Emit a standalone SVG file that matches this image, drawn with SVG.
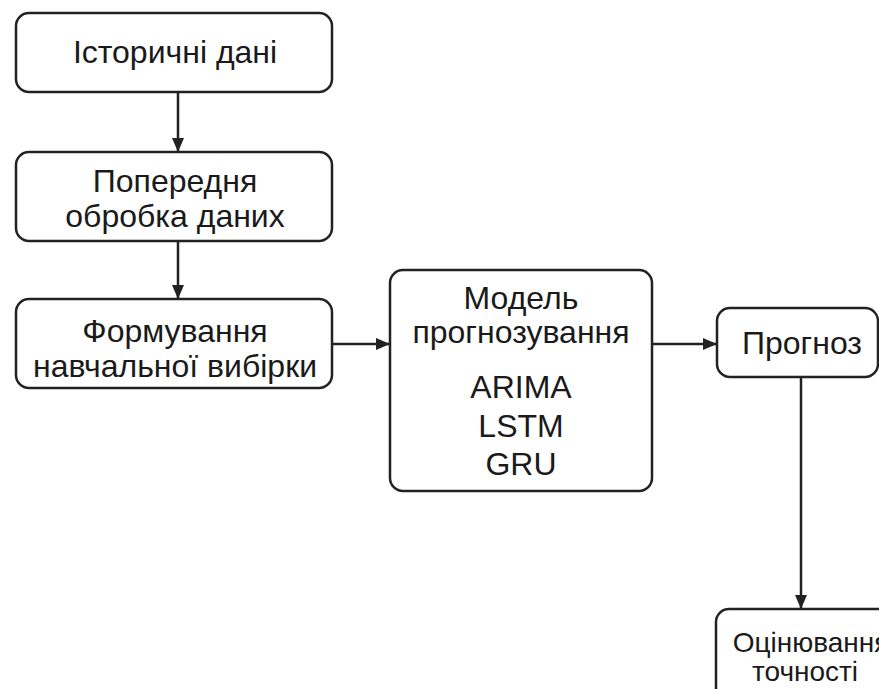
<svg xmlns="http://www.w3.org/2000/svg" width="879" height="689" viewBox="0 0 879 689">
<defs>
<style>
.box{fill:#fff;stroke:#222;stroke-width:2.5}
.t{font-family:"Liberation Sans",Arial,sans-serif;font-size:32px;fill:#1a1a1a;text-anchor:middle}
.s{font-size:28px}
.c{fill:none;stroke:#222;stroke-width:2.5}
</style>
<marker id="ah" viewBox="0 0 14 12" refX="14" refY="6" markerWidth="14" markerHeight="12" markerUnits="userSpaceOnUse" orient="auto">
<path d="M0,0 L14,6 L0,12 Z" fill="#222"/>
</marker>
</defs>
<rect width="879" height="689" fill="#fff"/>
<g id="connectors">
<line class="c" x1="178" y1="92" x2="178" y2="152" marker-end="url(#ah)"/>
<line class="c" x1="178" y1="241" x2="178" y2="299" marker-end="url(#ah)"/>
<line class="c" x1="332" y1="344" x2="390" y2="344" marker-end="url(#ah)"/>
<line class="c" x1="652" y1="344" x2="717" y2="344" marker-end="url(#ah)"/>
<line class="c" x1="801" y1="377" x2="801" y2="609" marker-end="url(#ah)"/>
</g>
<g id="n1">
<rect class="box" x="16" y="13" width="316" height="79" rx="13"/>
<text class="t" x="175" y="63">Історичні дані</text>
</g>
<g id="n2">
<rect class="box" x="16" y="152" width="316" height="89" rx="13"/>
<text class="t" x="175" y="192">Попередня</text>
<text class="t" x="175" y="227">обробка даних</text>
</g>
<g id="n3">
<rect class="box" x="16" y="299" width="316" height="89" rx="13"/>
<text class="t" x="175" y="342">Формування</text>
<text class="t" x="175" y="377">навчальної вибірки</text>
</g>
<g id="n4">
<rect class="box" x="390" y="270" width="262" height="221" rx="13"/>
<text class="t" x="521" y="309">Модель</text>
<text class="t" x="521" y="343">прогнозування</text>
<text class="t" x="521" y="398">ARIMA</text>
<text class="t" x="521" y="437">LSTM</text>
<text class="t" x="521" y="475">GRU</text>
</g>
<g id="n5">
<rect class="box" x="717" y="308" width="161" height="69" rx="13"/>
<text class="t" x="802" y="354">Прогноз</text>
</g>
<g id="n6">
<rect class="box" x="716" y="609" width="200" height="110" rx="13"/>
<text class="t s" x="811" y="652">Оцінювання</text>
<text class="t s" x="805" y="681">точності</text>
</g>
</svg>
